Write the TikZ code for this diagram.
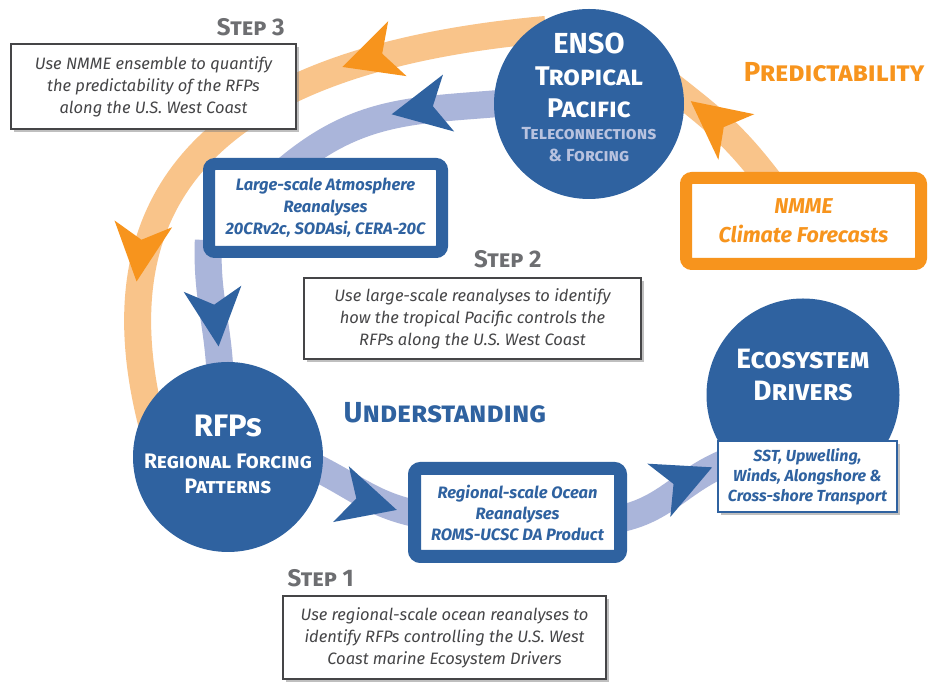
\documentclass[tikz,border=0pt]{standalone}
\usepackage{fontspec}
\setmainfont{Fira Sans}
\usetikzlibrary{positioning,shadows,arrows.meta,decorations.markings}

\definecolor{ensoblue}{HTML}{2F62A0}
\definecolor{bandblue}{HTML}{AAB5DA}
\definecolor{bandorange}{HTML}{F9C48A}
\definecolor{darkorange}{HTML}{F7941D}
\definecolor{stepgray}{HTML}{6D6E71}
\definecolor{textgray}{HTML}{454547}
\definecolor{teleblue}{HTML}{B8C2DF}

\pgfdeclarelayer{background}
\pgfsetlayers{background,main}

\begin{document}
\begin{tikzpicture}[x=1pt,y=1pt]
	\tikzset{bubble/.style={circle,fill=ensoblue,minimum size=190pt,inner sep=0pt}}
	\tikzset{bubbletext/.style={text=white,align=center,inner sep=0pt,font=\bfseries\scshape#1}}
	\tikzset{stepbox/.style={draw=textgray,line width=1.4pt,fill=white,
		drop shadow={shadow xshift=3pt,shadow yshift=-3pt,opacity=.5},
		text=textgray,align=center,inner sep=0pt,font=\itshape\fontsize{16.5}{22}\selectfont}}
	\tikzset{steplabel/.style={text=stepgray,inner sep=0pt,font=\bfseries\scshape\fontsize{24}{24}\selectfont}}
	\tikzset{framebox/.style={draw=#1,line width=12pt,rounded corners=6pt,fill=white,text=#1,
		align=center,inner sep=0pt,drop shadow={shadow xshift=3pt,shadow yshift=-3pt,opacity=.4}}}
	\tikzset{ecobox/.style={draw=ensoblue,line width=2pt,fill=white,text=ensoblue,align=center,inner sep=0pt,
		drop shadow={shadow xshift=3pt,shadow yshift=-3pt,opacity=.5},
		font=\bfseries\itshape\fontsize{16}{20}\selectfont}}
	\tikzset{bigword/.style={text=#1,inner sep=0pt,font=\bfseries\scshape\fontsize{29}{29}\selectfont}}
	\tikzset{band/.style={draw=#1,line width=27pt,shorten <=-18pt,shorten >=-18pt}}
	\tikzset{orangetip/.tip={Stealth[length=58pt,width=58pt,inset=16pt,line width=0pt,color=darkorange]}}
	\tikzset{bluetip/.tip={Stealth[length=58pt,width=58pt,inset=16pt,line width=0pt,color=ensoblue]}}
	\tikzset{tipat/.style 2 args={postaction={decorate,decoration={markings,mark=at position #1 with {\arrow{#2}}}}}}

	\useasboundingbox (0,0) rectangle (930,685);

	\node[bubble] (enso) at (589,581) {};
	\node[bubbletext=\fontsize{29}{32}\selectfont] (ensotext) at ([yshift=7pt]enso.center)
		{ENSO\\ {\fontsize{27}{32}\selectfont Tropical}\\ {\fontsize{27}{32}\selectfont Pacific}\\[-10pt]
		 {\fontsize{17.5}{22}\selectfont\color{teleblue}Teleconnections}\\[-10pt]
		 {\fontsize{17.5}{22}\selectfont\color{teleblue}\& Forcing}};
	\node[bubble] (rfps) at (228,228) {};
	\node[bubbletext=\fontsize{31}{32}\selectfont] (rfpstext) at ([yshift=3pt]rfps.center)
		{RFPs\\ {\fontsize{21}{25}\selectfont Regional Forcing}\\[-7pt] {\fontsize{21}{25}\selectfont Patterns}};
	\node[bubble,minimum size=193pt] (eco) at (803,290) {};
	\node[bubbletext=\fontsize{28}{32}\selectfont] (ecotext) at ([yshift=20pt]eco.center)
		{Ecosystem\\ Drivers};

	\node[stepbox,minimum width=285pt,minimum height=85pt] (step3) at (153.5,598.5)
		{Use NMME ensemble to quantify\\ the predictability of the RFPs\\ along the U.S. West Coast};
	\node[steplabel,above left=7pt and 12pt of step3.north east] (step3lab) {Step 3};
	\node[stepbox,minimum width=337pt,minimum height=81pt] (step2) at (472.5,366.5)
		{Use large-scale reanalyses to identify\\ how the tropical Pacific controls the\\ RFPs along the U.S. West Coast};
	\node[steplabel,anchor=south east] (step2lab) at ([xshift=-100pt,yshift=9pt]step2.north east) {Step 2};
	\node[stepbox,minimum width=323pt,minimum height=83pt] (step1) at (444.5,47.5)
		{Use regional-scale ocean reanalyses to\\ identify RFPs controlling the U.S. West\\ Coast marine Ecosystem Drivers};
	\node[steplabel,above right=8pt and 5pt of step1.north west] (step1lab) {Step 1};

	\node[framebox=ensoblue,minimum width=233pt,minimum height=88pt,font=\bfseries\itshape\fontsize{16.5}{22}\selectfont]
		(large) at (325.5,477) {Large-scale Atmosphere\\ Reanalyses\\ 20CRv2c, SODAsi, CERA-20C};
	\node[framebox=ensoblue,line width=13pt,minimum width=206pt,minimum height=88pt,font=\bfseries\itshape\fontsize{16.5}{21}\selectfont]
		(regional) at (517.5,172.5) {Regional-scale Ocean\\ Reanalyses\\ ROMS-UCSC DA Product};
	\node[framebox=darkorange,minimum width=235pt,minimum height=86pt,font=\bfseries\itshape\fontsize{21.5}{29}\selectfont]
		(nmme) at (803.5,464) {NMME\\ Climate Forecasts};
	\node[ecobox,minimum width=179pt,minimum height=71pt] (drivers) at (807.5,208.5)
		{SST, Upwelling,\\ Winds, Alongshore \&\\ Cross-shore Transport};

	\node[bigword=darkorange,font=\bfseries\scshape\fontsize{27.5}{28}\selectfont] (predict) at (834,613) {Predictability};
	\node[bigword=ensoblue] (understand) at (445,272) {Understanding};

	\begin{pgfonlayer}{background}
		\fill[white] (0,0) rectangle (930,685);
		\draw[band=bandorange,tipat={0.92}{orangetip}] (nmme.130) to[out=127,in=-38] (enso.5);
		\draw[band=bandorange,tipat={0.3}{orangetip},tipat={0.8}{orangetip}]
			(enso.130) .. controls (274,631) and (83,532) .. (rfps.148);
		\draw[band=bandblue,tipat={0.5}{bluetip}] (enso.180) to[out=185,in=40] (large.117);
		\draw[band=bandblue,tipat={0.85}{bluetip}] (large.203) to[out=-92,in=92] (rfps.95);
		\draw[band=bandblue,tipat={0.88}{bluetip}] (rfps.-8) to[out=-25,in=170] (regional.west);
		\draw[band=bandblue,tipat={0.95}{bluetip}] (regional.-3) to[out=8,in=200] (drivers.173);
	\end{pgfonlayer}
\end{tikzpicture}
\end{document}
